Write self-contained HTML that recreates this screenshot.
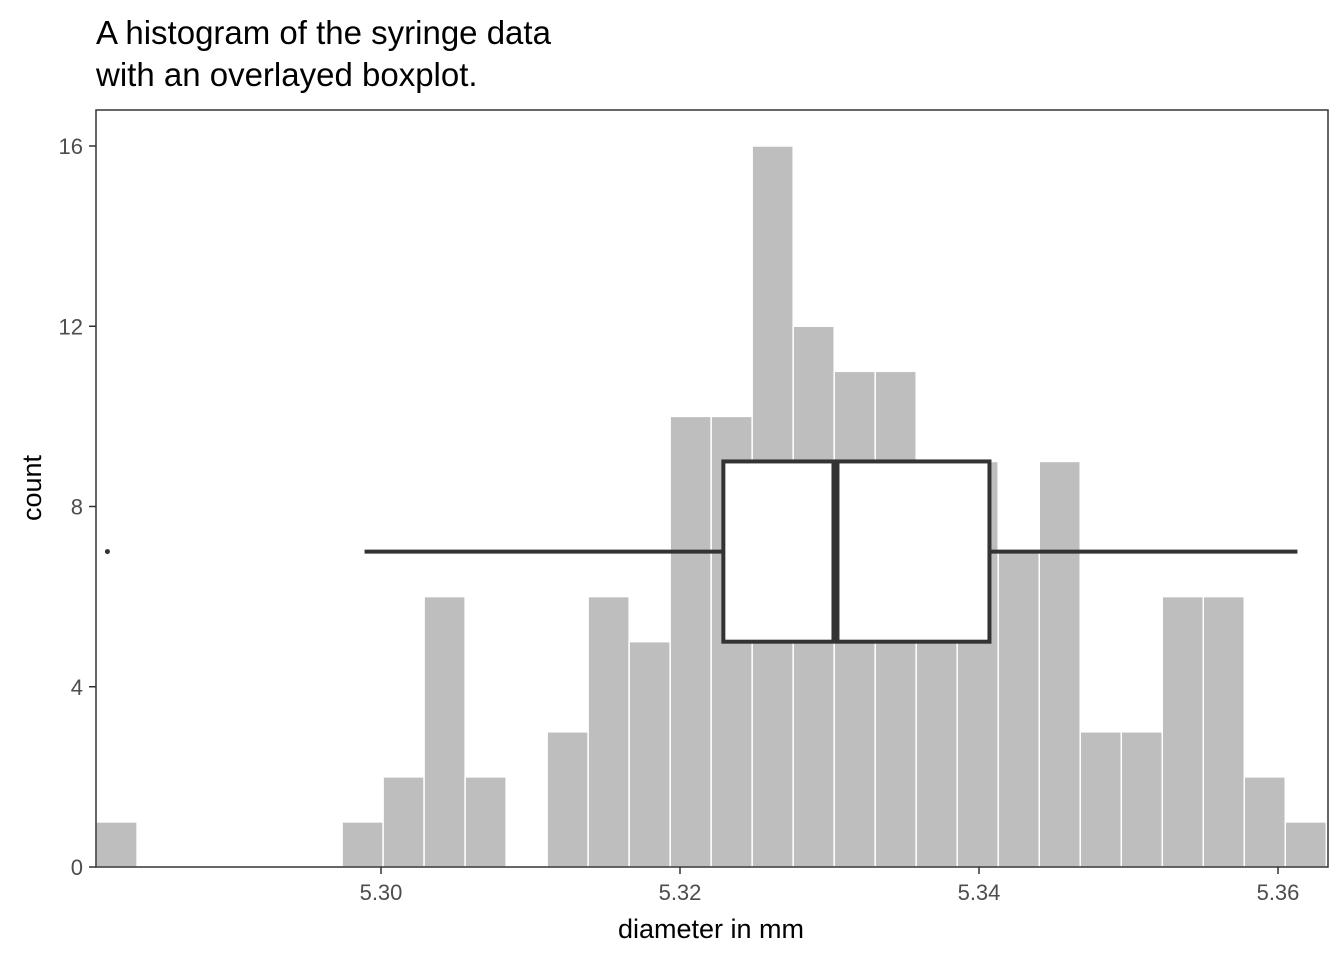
<!DOCTYPE html>
<html><head><meta charset="utf-8"><style>body{margin:0;background:#fff}svg text{font-family:"Liberation Sans",Arial,sans-serif}</style></head>
<body>
<svg id="chart" width="1344" height="960" xmlns="http://www.w3.org/2000/svg">
<text x="96" y="44" font-size="33" fill="#000">A histogram of the syringe data</text>
<text x="96" y="86" font-size="33" fill="#000">with an overlayed boxplot.</text>
<g id="bars"></g>
<g id="box"></g>
<rect x="96" y="110" width="1232" height="757" fill="none" stroke="#333" stroke-width="1.5"/>
<g id="axes"></g>
<text x="711" y="938" font-size="27" text-anchor="middle">diameter in mm</text>
<text transform="translate(41,488) rotate(-90)" font-size="27" text-anchor="middle">count</text>
</svg>
<script>
const binStart = 5.28094;
const binWidth = 0.002743;
const counts = [1,0,0,0,0,0,1,2,6,2,0,3,6,5,10,10,16,12,11,11,8,9,7,9,3,3,6,6,2,1];
const xTicks = [5.30,5.32,5.34,5.36];
const xTickLabels = ["5.30","5.32","5.34","5.36"];
const yTicks = [0,4,8,12,16];
const boxStats = [5.2989,5.3229,5.3304,5.3407,5.3613];
const boxYRange = [5,9];
const boxYCenter = [7];
const outliers = [5.2817];
const NS="http://www.w3.org/2000/svg";
const X=v=>381+(v-5.30)*14950;
const Y=v=>867-v*45.0625;
function mk(tag,attrs,parent){const e=document.createElementNS(NS,tag);for(const k in attrs)e.setAttribute(k,attrs[k]);parent.appendChild(e);return e;}
const bars=document.getElementById('bars');
counts.forEach((c,i)=>{if(!c)return;const x0=X(binStart+i*binWidth),x1=X(binStart+(i+1)*binWidth);
const r=mk('rect',{x:x0,y:Y(c),width:x1-x0,height:Y(0)-Y(c),fill:'#bebebe',stroke:'#fff','stroke-width':1.5},bars);

});
const box=document.getElementById('box');
const yc=Y(boxYCenter[0]),s={stroke:'#333','stroke-width':4,fill:'none'};
let l=mk('line',Object.assign({x1:X(boxStats[0]),x2:X(boxStats[1]),y1:yc,y2:yc},s),box);


l=mk('line',Object.assign({x1:X(boxStats[3]),x2:X(boxStats[4]),y1:yc,y2:yc},s),box);


l=mk('rect',{x:X(boxStats[1]),y:Y(boxYRange[1]),width:X(boxStats[3])-X(boxStats[1]),height:Y(boxYRange[0])-Y(boxYRange[1]),fill:'#fff',stroke:'#333','stroke-width':4},box);


l=mk('line',{x1:X(boxStats[2]),x2:X(boxStats[2]),y1:Y(boxYRange[1]),y2:Y(boxYRange[0]),stroke:'#333','stroke-width':8},box);


outliers.forEach(o=>{const c=mk('circle',{cx:X(o),cy:yc,r:2.5,fill:'#333'},box);

});
const ax=document.getElementById('axes');
xTicks.forEach((t,i)=>{mk('line',{x1:X(t),x2:X(t),y1:867,y2:874,stroke:'#333','stroke-width':1.5},ax);
const tx=mk('text',{x:X(t),y:900,'font-size':22,fill:'#4d4d4d','text-anchor':'middle'},ax);tx.textContent=xTickLabels[i];

});
yTicks.forEach(t=>{mk('line',{x1:89,x2:96,y1:Y(t),y2:Y(t),stroke:'#333','stroke-width':1.5},ax);
const tx=mk('text',{x:83,y:Y(t)+8,'font-size':22,fill:'#4d4d4d','text-anchor':'end'},ax);tx.textContent=t;

});
</script>
</body></html>
